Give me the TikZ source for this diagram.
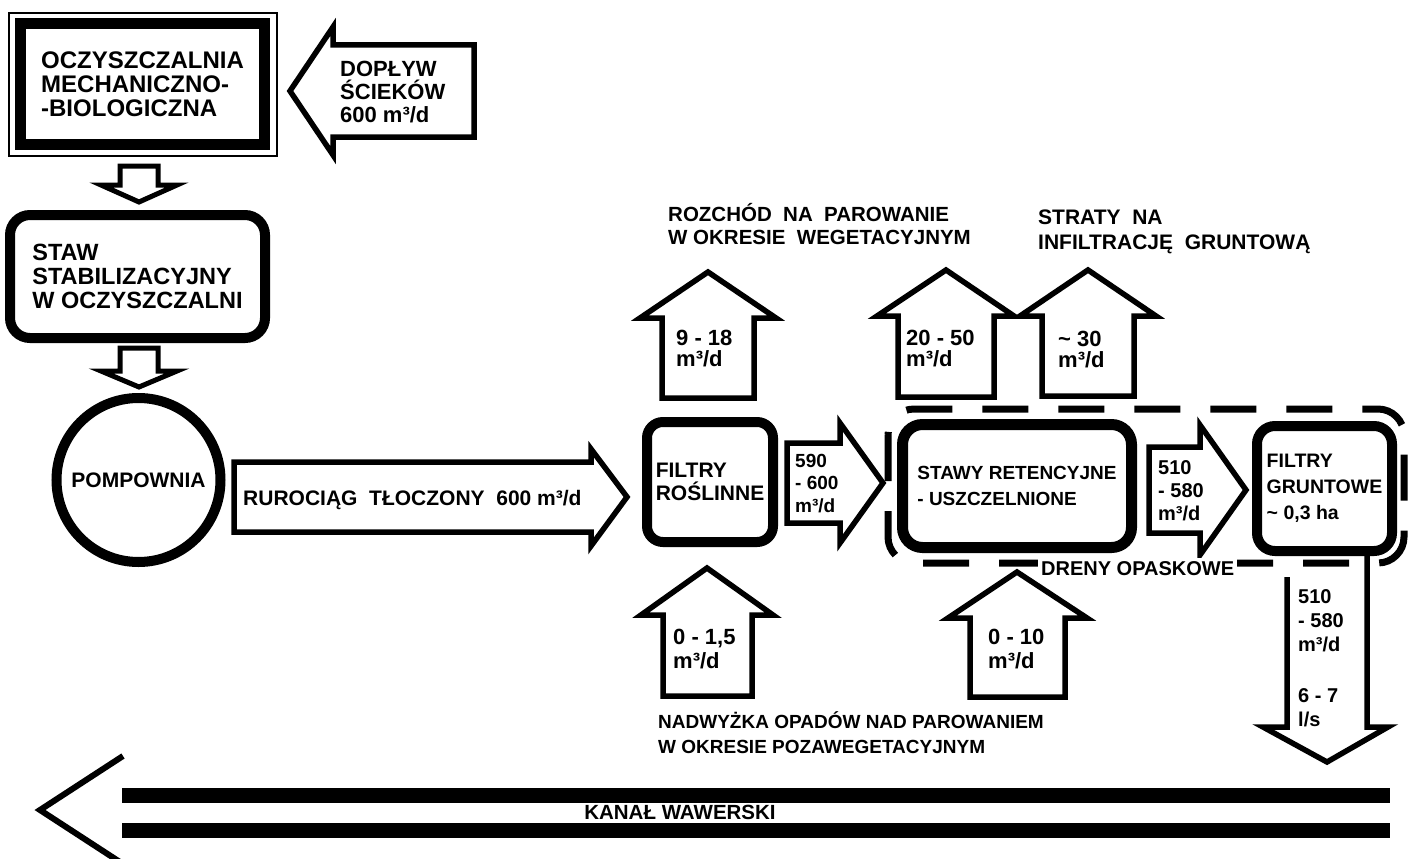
\documentclass[tikz,border=0pt]{standalone}
\usepackage{fontspec}
\setmainfont{Liberation Sans}

\begin{document}
\bfseries
\begin{tikzpicture}[x=1pt, y=-1pt,
  plant/.style={draw, line width=10pt, align=left, inner sep=0pt},
  pond/.style={plant, rounded corners=20pt},
  blockarrow/.style={draw, line width=5.5pt, line join=miter},
  txt/.style={align=left, inner sep=0pt, font=\fontsize{21}{24}\selectfont},
  dren/.style={draw, line width=7pt, dash pattern=on 46pt off 30pt, rounded corners=26pt}]
  \useasboundingbox (0,0) rectangle (1417,859);

  % drains round the ponds and the soil filters
  \draw[dren] (888,409) rectangle (1404,563);

  % plant, pond, pumping station
  \node[plant, line width=11pt, minimum width=244pt, minimum height=121pt,
        font=\fontsize{24}{24}\selectfont] (oczysz) at (142.5,84)
        {OCZYSZCZALNIA\\MECHANICZNO-\\-BIOLOGICZNA};
  \draw[line width=2.5pt] ([shift={(-6,-5)}]oczysz.north west) rectangle ([shift={(7,6)}]oczysz.south east);
  \node[pond, minimum width=255pt, minimum height=123pt,
        font=\fontsize{23.5}{24}\selectfont] (staw) at (137.5,276.5)
        {STAW\\STABILIZACYJNY\\W OCZYSZCZALNI};
  \node[circle, draw, line width=10pt, minimum size=164pt, inner sep=0pt,
        font=\fontsize{21}{24}\selectfont] (pomp) at (138.5,480) {POMPOWNIA};

  % filters and retention ponds
  \node[pond, rounded corners=16pt, minimum width=126pt, minimum height=120pt,
        font=\fontsize{21}{23}\selectfont] (rosl) at (710,482) {FILTRY\\ROŚLINNE};
  \node[pond, line width=11pt, minimum width=229pt, minimum height=123pt,
        font=\fontsize{19}{26}\selectfont] (stawy) at (1017,486)
        {STAWY RETENCYJNE\\- USZCZELNIONE};
  \node[pond, rounded corners=18pt, minimum width=135pt, minimum height=125pt,
        font=\fontsize{19.5}{26}\selectfont] (grunt) at (1324.5,488.5)
        {FILTRY\\GRUNTOWE\\\textasciitilde\ 0,3 ha};

  % inflow
  \draw[blockarrow] (474,45) -- (333,45) -- (333,27) -- (290,91) -- (333,155) -- (333,137) -- (474,137) -- cycle;
  \node[txt, anchor=north west, font=\fontsize{22}{23}\selectfont] (doplyw) at (340,61)
        {DOPŁYW\\ŚCIEKÓW\\600 m³/d};

  % between plant, pond and pumping station
  \draw[blockarrow, line width=5pt] (120,166) -- (158,166) -- (158,185) -- (177,185) -- (139,202) -- (101,185) -- (120,185) -- cycle;
  \draw[blockarrow, line width=5pt] (120,348) -- (158,348) -- (158,371) -- (177,371) -- (139,387) -- (101,371) -- (120,371) -- cycle;

  % pressure pipeline
  \draw[blockarrow] (234,462) -- (591,462) -- (591,449) -- (627,497) -- (591,546) -- (591,532) -- (234,532) -- cycle;
  \node[txt, anchor=base west] (ruroc) at (243,505) {RUROCIĄG\ \ TŁOCZONY\ \ 600 m³/d};

  % plant filters -> ponds -> soil filters
  \draw[blockarrow] (787,443) -- (840,443) -- (840,423) -- (883,483) -- (840,543) -- (840,523) -- (787,523) -- cycle;
  \node[txt, anchor=north west, font=\fontsize{19}{22.5}\selectfont] (q1) at (795,454) {590\\- 600\\m³/d};
  \draw[blockarrow] (1149,447) -- (1200,447) -- (1200,425) -- (1246,490) -- (1200,555) -- (1200,533) -- (1149,533) -- cycle;
  \node[txt, anchor=north west, font=\fontsize{20}{23}\selectfont] (q2) at (1158,460) {510\\- 580\\m³/d};

  % evaporation and infiltration
  \node[txt, anchor=north west, font=\fontsize{20.5}{23}\selectfont] (evapcap) at (668,203)
        {ROZCHÓD\ \ NA\ \ PAROWANIE\\W OKRESIE\ \ WEGETACYJNYM};
  \node[txt, anchor=north west, font=\fontsize{21}{25}\selectfont] (infcap) at (1038,210)
        {STRATY\ \ NA\\INFILTRACJĘ\ \ GRUNTOWĄ};
  \draw[blockarrow] (708,272) -- (776,318) -- (754,318) -- (754,398) -- (662,398) -- (662,318) -- (640,318) -- cycle;
  \node[txt, anchor=north west, font=\fontsize{22}{21}\selectfont] (evap1) at (676,330) {9 - 18\\m³/d};
  \draw[blockarrow] (946,270) -- (1014,316) -- (994,316) -- (994,397) -- (898,397) -- (898,316) -- (877,316) -- cycle;
  \node[txt, anchor=north west, font=\fontsize{22}{21}\selectfont] (evap2) at (906,330) {20 - 50\\m³/d};
  \draw[blockarrow] (1088,270) -- (1156,316) -- (1134,316) -- (1134,396) -- (1042,396) -- (1042,316) -- (1020,316) -- cycle;
  \node[txt, anchor=north west, font=\fontsize{22}{21}\selectfont] (infil) at (1058,331) {\textasciitilde\ 30\\m³/d};

  % precipitation surplus
  \draw[blockarrow] (707,568) -- (773,615) -- (752,615) -- (752,696) -- (663,696) -- (663,615) -- (641,615) -- cycle;
  \node[txt, anchor=north west, font=\fontsize{22}{24}\selectfont] (rain1) at (673,629) {0 - 1,5\\m³/d};
  \draw[blockarrow] (1017,572) -- (1087,618) -- (1065,618) -- (1065,697) -- (970,697) -- (970,618) -- (948,618) -- cycle;
  \node[txt, anchor=north west, font=\fontsize{22}{24}\selectfont] (rain2) at (988,629) {0 - 10\\m³/d};
  \node[txt, anchor=north west, font=\fontsize{19}{25}\selectfont] (raincap) at (658,711)
        {NADWYŻKA OPADÓW NAD PAROWANIEM\\W OKRESIE POZAWEGETACYJNYM};

  \node[txt, anchor=base west, fill=white, inner sep=3pt, font=\fontsize{20}{22}\selectfont] (dreny) at (1038,575) {DRENY OPASKOWE};

  % outflow to the canal
  \draw[blockarrow] (1287,577) -- (1287,727) -- (1263,727) -- (1327,762) -- (1388,727) -- (1367,727) -- (1367,556);
  \node[txt, anchor=north west, font=\fontsize{20}{24}\selectfont] (outq) at (1298,589)
        {510\\- 580\\m³/d\\[27pt]6 - 7\\l/s};

  % canal
  \draw[line width=15pt] (122,795) -- (1390,795);
  \draw[line width=15pt] (122,830) -- (1390,830);
  \draw[line width=6pt, line join=miter] (123,756) -- (40,810) -- (123,864);
  \node[txt, font=\fontsize{20.5}{20}\selectfont] (kanal) at (680,812) {KANAŁ WAWERSKI};
\end{tikzpicture}
\end{document}
